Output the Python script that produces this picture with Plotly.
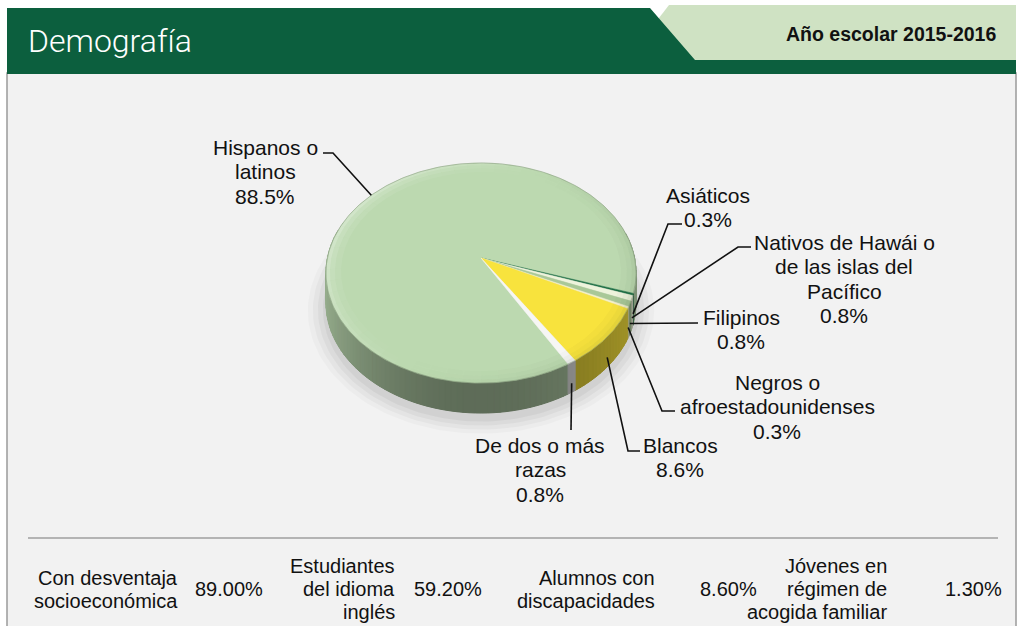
import numpy as np
import plotly.graph_objects as go

# ------------------------------------------------------------------ data
title_text = "Demografía"
year_text = "Año escolar 2015-2016"

groups = ["Hispanos o latinos", "Asiáticos",
          "Nativos de Hawái o de las islas del Pacífico", "Filipinos",
          "Negros o afroestadounidenses", "Blancos", "De dos o más razas"]
group_lines = [["Hispanos o", "latinos"], ["Asiáticos"],
               ["Nativos de Hawái o", "de las islas del", "Pacífico"],
               ["Filipinos"], ["Negros o", "afroestadounidenses"],
               ["Blancos"], ["De dos o más", "razas"]]
percent = [88.5, 0.3, 0.8, 0.8, 0.3, 8.6, 0.8]

stat_labels = [["Con desventaja", "socioeconómica"],
               ["Estudiantes", "del idioma", "inglés"],
               ["Alumnos con", "discapacidades"],
               ["Jóvenes en", "régimen de", "acogida familiar"]]
stat_values = [89.00, 59.20, 8.60, 1.30]

# ------------------------------------------------------------------ styles / layout
W, H = 1019, 626
FONT = "Liberation Sans, Arial, sans-serif"
slice_colors = ["#bcd9b0", "#1d6f44", "#eef3dc", "#a9c898", "#f4f1cc", "#f8e33d", "#f6f6f4"]

# perspective disc geometry (pixels)
CX, CY = 481.0, 258.0      # projected centre (apex of wedges)
A, B = 153.6, 108.0        # radii
K = 0.1364                 # perspective factor
T = 30.0                   # thickness
START = 60.0               # first slice start, degrees clockwise from 3 o'clock

# label placement: centre x, first line y, leader path after anchor
label_layout = [
    (265, 147, [(333, 153), (323, 153)]),
    (708, 195, [(668, 224), (682, 224)]),
    (844, 242, [(738, 247), (751, 247)]),
    (741, 317, [(698, 323)]),
    (777, 382, [(662, 411), (675, 411)]),
    (680, 445, [(628, 451), (640, 451)]),
    (540, 445, [(571, 430)]),
]
PIE_LS = 24.5
stat_label_right = [180, 397, 657, 889]
stat_value_left = [193, 412, 698, 943]
TABLE_LS = 23
TABLE_MID = 589


def rim(theta_deg, drop=0.0, grow=0.0):
    t = np.radians(theta_deg)
    u, v = np.cos(t), np.sin(t)
    w = 1 - K * v
    return CX + (A + grow) * u / w, CY + drop + (B + grow * 0.7) * v / w


def shade(hexc, f):
    h = hexc.lstrip("#")
    r, g, b = (int(h[i:i + 2], 16) for i in (0, 2, 4))
    return "rgb(%d,%d,%d)" % tuple(min(255, int(c * f)) for c in (r, g, b))


def side_factor(theta):
    c = np.cos(np.radians(theta))
    return 0.50 + 0.30 * max(0.0, -c) ** 2 + 0.18 * max(0.0, c) ** 2


fig = go.Figure()

# slice angle boundaries from the data
vals = np.array(percent, dtype=float)
bounds = START + np.concatenate([[0], np.cumsum(vals / vals.sum() * 360.0)])

# soft drop shadow
for g, a in [(18, 0.025), (13, 0.03), (8, 0.035), (3, 0.045)]:
    th = np.linspace(0, 360, 181)
    sx, sy = rim(th, drop=T + 6, grow=g)
    fig.add_trace(go.Scatter(x=sx, y=sy, mode="lines", fill="toself",
                             fillcolor="rgba(0,0,0,%g)" % a, line=dict(width=0),
                             hoverinfo="skip"))

# base of the side (fills any seams between the shaded strips)
th = np.linspace(-20, 200, 221)
tx, ty = rim(th)
bx, by = rim(th[::-1], drop=T)
fig.add_trace(go.Scatter(x=np.concatenate([tx, bx, tx[:1]]), y=np.concatenate([ty, by, ty[:1]]),
                         mode="lines", fill="toself", fillcolor=shade(slice_colors[0], 0.58),
                         line=dict(width=0), hoverinfo="skip"))

# side of the disc
for i, col in enumerate(slice_colors):
    a0, a1 = bounds[i], bounds[i + 1]
    n = max(1, int(np.ceil((a1 - a0) / 2.0)))
    edges = np.linspace(a0, a1, n + 1)
    for s0, s1 in zip(edges[:-1], edges[1:]):
        mid = (s0 + s1) / 2
        if np.sin(np.radians(mid)) < -0.25:
            continue
        th = np.linspace(s0, s1, 4)
        tx, ty = rim(th)
        bx, by = rim(th[::-1], drop=T)
        fc = shade(col, side_factor(mid))
        fig.add_trace(go.Scatter(x=np.concatenate([tx, bx, tx[:1]]),
                                 y=np.concatenate([ty, by, ty[:1]]),
                                 mode="lines", fill="toself", fillcolor=fc,
                                 line=dict(width=1.0, color=fc), hoverinfo="skip"))

# top face
for i, col in enumerate(slice_colors):
    a0, a1 = bounds[i], bounds[i + 1]
    th = np.linspace(a0, a1, max(3, int((a1 - a0) / 0.5) + 2))
    rx, ry = rim(th)
    fig.add_trace(go.Scatter(x=np.concatenate([[CX], rx, [CX]]),
                             y=np.concatenate([[CY], ry, [CY]]),
                             mode="lines", fill="toself", fillcolor=col,
                             line=dict(width=0.5, color=col),
                             name=groups[i], hoverinfo="name"))

# bevel highlight around the top rim
for g0, g1, strength in [(0, -4, 1.0), (-4, -9, 0.55), (-9, -15, 0.25)]:
    steps = np.arange(0, 360, 6.0)
    for s0 in steps:
        s1 = s0 + 6.0
        mid = s0 + 3.0
        h = -np.cos(np.radians(mid - 25))
        if h > 0:
            fc = "rgba(255,255,255,%.3f)" % (0.32 * h * strength)
        else:
            fc = "rgba(40,60,30,%.3f)" % (0.10 * (-h) * strength)
        th = np.linspace(s0, s1, 5)
        ox, oy = rim(th, grow=g0)
        ix, iy = rim(th[::-1], grow=g1)
        fig.add_trace(go.Scatter(x=np.concatenate([ox, ix, ox[:1]]),
                                 y=np.concatenate([oy, iy, oy[:1]]),
                                 mode="lines", fill="toself", fillcolor=fc,
                                 line=dict(width=0), hoverinfo="skip"))

# rim outline
th = np.linspace(0, 360, 361)
ox, oy = rim(th)
fig.add_trace(go.Scatter(x=ox, y=oy, mode="lines",
                         line=dict(width=1, color="rgba(120,140,110,0.45)"),
                         hoverinfo="skip"))

annotations = []


def add_lines(lines, x, y0, ls, size, xanchor="center", color="#111111"):
    for j, s in enumerate(lines):
        annotations.append(dict(x=x, y=y0 + j * ls, xref="x", yref="y", text=s,
                                showarrow=False, xanchor=xanchor, yanchor="middle",
                                font=dict(family=FONT, size=size, color=color)))


# labels + leader lines
for i in range(len(groups)):
    cx_l, y0, path = label_layout[i]
    add_lines(group_lines[i] + ["%.1f%%" % percent[i]], cx_l, y0, PIE_LS, 21)
    mid = (bounds[i] + bounds[i + 1]) / 2
    s = np.sin(np.radians(mid))
    w = 1 - K * s
    ax, ay = rim(mid, drop=(0.62 * T / w if s > 0 else 0.0))
    xs = [float(ax)] + [p[0] for p in path]
    ys = [float(ay)] + [p[1] for p in path]
    fig.add_trace(go.Scatter(x=xs, y=ys, mode="lines",
                             line=dict(color="#111111", width=1.6), hoverinfo="skip"))

# stats table
for k in range(len(stat_labels)):
    n = len(stat_labels[k])
    y0 = TABLE_MID - (n - 1) * TABLE_LS / 2
    add_lines(stat_labels[k], stat_label_right[k], y0, TABLE_LS, 20, xanchor="right")
    add_lines(["%.2f%%" % stat_values[k]], stat_value_left[k], TABLE_MID, TABLE_LS, 20,
              xanchor="left")

# header texts
annotations.append(dict(x=26, y=41, xref="x", yref="y", text=title_text, showarrow=False,
                        xanchor="left", yanchor="middle",
                        font=dict(family="Roboto, Liberation Sans, sans-serif", size=32,
                                  color="#ffffff", weight=300)))
annotations.append(dict(x=998, y=34, xref="x", yref="y", text="<b>%s</b>" % year_text,
                        showarrow=False, xanchor="right", yanchor="middle",
                        font=dict(family=FONT, size=19.5, color="#111111")))

shapes = [
    dict(type="rect", xref="x", yref="y", x0=7, y0=73, x1=1016, y1=640,
         fillcolor="#f2f2f2", line=dict(color="#9a9a9a", width=1.5), layer="below"),
    dict(type="path", xref="x", yref="y", path="M 669,5 L 1016,5 L 1016,62 L 625,62 Z",
         fillcolor="#cfe2c3", line=dict(width=0), layer="below"),
    dict(type="path", xref="x", yref="y",
         path="M 7,8 L 650,8 L 695,60 L 1016,60 L 1016,74 L 7,74 Z",
         fillcolor="#0c5f3e", line=dict(width=0), layer="below"),
    dict(type="line", xref="x", yref="y", x0=28, x1=998, y0=538, y1=538,
         line=dict(color="#9f9f9f", width=1.5), layer="below"),
]

fig.update_layout(
    width=W, height=H, margin=dict(l=0, r=0, t=0, b=0),
    paper_bgcolor="#ffffff", plot_bgcolor="#ffffff", showlegend=False,
    xaxis=dict(range=[0, W], visible=False, fixedrange=True),
    yaxis=dict(range=[H, 0], visible=False, fixedrange=True),
    shapes=shapes, annotations=annotations,
)

fig.write_html("out.html", config={"displayModeBar": False},
               post_script="document.body.style.margin='0';document.body.style.overflow='hidden';")
